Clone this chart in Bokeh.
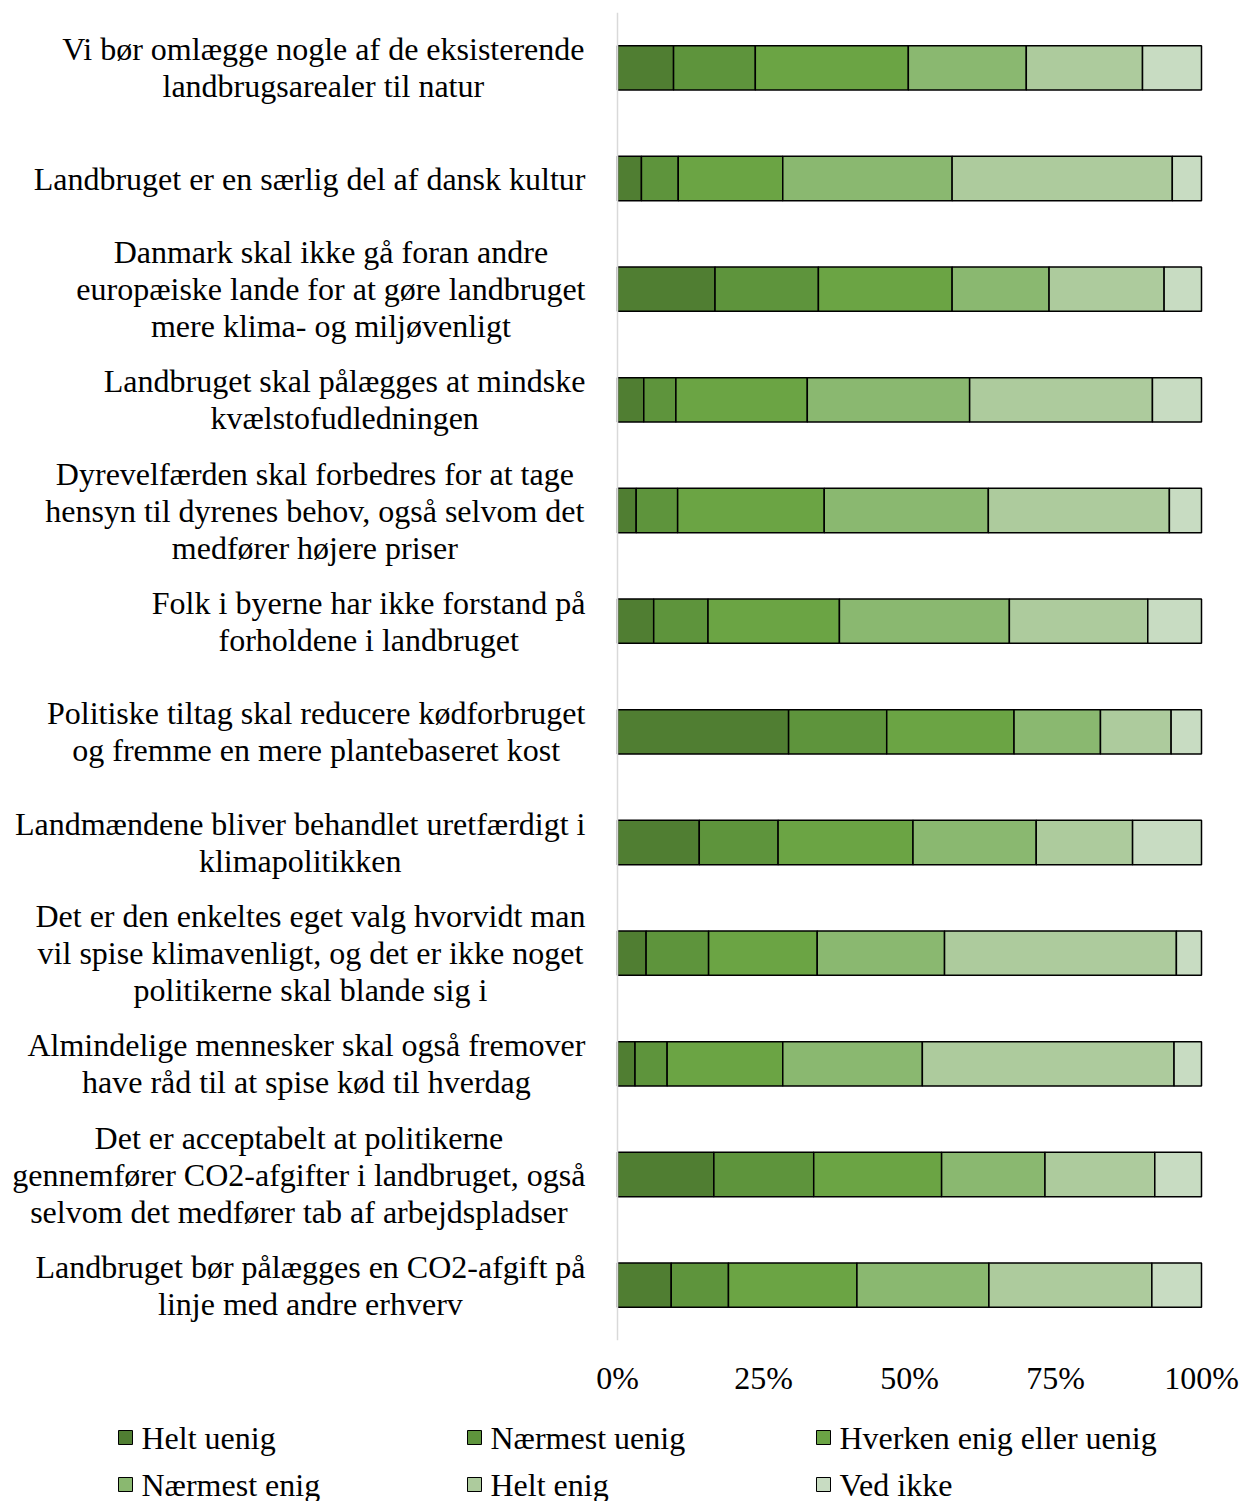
from bokeh.plotting import figure
from bokeh.models import FactorRange, Range1d, FixedTicker, Span, ColumnDataSource
from bokeh.layouts import column
from bokeh.embed import file_html
from bokeh.resources import INLINE
from bokeh.core.properties import value

# ---------------- data ----------------
statements = [
    ["Vi bør omlægge nogle af de eksisterende", "landbrugsarealer til natur"],
    ["Landbruget er en særlig del af dansk kultur"],
    ["Danmark skal ikke gå foran andre", "europæiske lande for at gøre landbruget", "mere klima- og miljøvenligt"],
    ["Landbruget skal pålægges at mindske", "kvælstofudledningen"],
    ["Dyrevelfærden skal forbedres for at tage", "hensyn til dyrenes behov, også selvom det", "medfører højere priser"],
    ["Folk i byerne har ikke forstand på", "forholdene i landbruget"],
    ["Politiske tiltag skal reducere kødforbruget", "og fremme en mere plantebaseret kost"],
    ["Landmændene bliver behandlet uretfærdigt i", "klimapolitikken"],
    ["Det er den enkeltes eget valg hvorvidt man", "vil spise klimavenligt, og det er ikke noget", "politikerne skal blande sig i"],
    ["Almindelige mennesker skal også fremover", "have råd til at spise kød til hverdag"],
    ["Det er acceptabelt at politikerne", "gennemfører CO2-afgifter i landbruget, også", "selvom det medfører tab af arbejdspladser"],
    ["Landbruget bør pålægges en CO2-afgift på", "linje med andre erhverv"],
]

series_names = ["Helt uenig", "Nærmest uenig", "Hverken enig eller uenig",
                "Nærmest enig", "Helt enig", "Ved ikke"]

helt_uenig     = [9.6, 4.1, 16.7, 4.5, 3.2, 6.2, 29.3, 14.0, 4.9, 3.0, 16.5, 9.2]
naermest_uenig = [14.0, 6.3, 17.7, 5.5, 7.1, 9.3, 16.8, 13.5, 10.7, 5.5, 17.1, 9.8]
hverken        = [26.2, 17.9, 22.9, 22.5, 25.1, 22.5, 21.8, 23.1, 18.6, 19.8, 21.9, 22.0]
naermest_enig  = [20.2, 29.0, 16.6, 27.8, 28.1, 29.1, 14.8, 21.1, 21.8, 23.9, 17.7, 22.6]
helt_enig      = [19.9, 37.7, 19.7, 31.3, 31.0, 23.7, 12.1, 16.5, 39.7, 43.1, 18.8, 27.9]
ved_ikke       = [10.1, 5.0, 6.4, 8.4, 5.5, 9.2, 5.2, 11.8, 4.3, 4.7, 8.0, 8.5]

x_ticks = [0, 25, 50, 75, 100]
x_tick_labels = ["0%", "25%", "50%", "75%", "100%"]

colors = ["#507E32", "#5E943C", "#6BA444", "#8AB870", "#ADCB9D", "#C8DCC2"]

# ---------------- layout constants ----------------
FONT = "Liberation Serif"
FS = 32
FIG_W = 1240
MAIN_H = 1400
LEG_H = 101
ZERO_PX = 617        # x of 0% measured from frame left
HUNDRED_PX = 1201    # x of 100% measured from frame left
UNIT = (HUNDRED_PX - ZERO_PX) / 100.0
LABEL_RIGHT_PX = 585  # right edge of label blocks from frame left
LINE_SP = 37

# Times / Liberation Serif advance widths (per 1000 em)
W = {' ': 250, ',': 250, '.': 250, '-': 333, '%': 833,
     'A': 722, 'B': 667, 'C': 667, 'D': 722, 'E': 611, 'F': 556, 'G': 722, 'H': 722,
     'I': 333, 'J': 389, 'K': 722, 'L': 611, 'M': 889, 'N': 722, 'O': 722, 'P': 556,
     'Q': 722, 'R': 667, 'S': 556, 'T': 611, 'U': 722, 'V': 722, 'W': 944, 'X': 722,
     'Y': 722, 'Z': 611,
     'a': 444, 'b': 500, 'c': 444, 'd': 500, 'e': 444, 'f': 333, 'g': 500, 'h': 500,
     'i': 278, 'j': 278, 'k': 500, 'l': 278, 'm': 778, 'n': 500, 'o': 500, 'p': 500,
     'q': 500, 'r': 333, 's': 389, 't': 278, 'u': 500, 'v': 500, 'w': 722, 'x': 500,
     'y': 500, 'z': 444, 'æ': 667, 'ø': 500, 'å': 444}


def text_w(s):
    return sum(W.get(c, 500) for c in s) * FS / 1000.0


cats = [" ".join(lines) for lines in statements]

data = {"cat": cats}
for name, vals in zip(series_names, [helt_uenig, naermest_uenig, hverken,
                                     naermest_enig, helt_enig, ved_ikke]):
    data[name] = vals
source = ColumnDataSource(data)

x_start = -ZERO_PX / UNIT
x_end = (FIG_W - ZERO_PX) / UNIT

p = figure(width=FIG_W, height=MAIN_H,
           y_range=FactorRange(factors=cats[::-1]),
           x_range=Range1d(x_start, x_end),
           toolbar_location=None, output_backend="svg",
           min_border_left=0, min_border_right=0, min_border_top=12,
           min_border_bottom=60)

p.hbar_stack(series_names, y="cat", height=0.4, color=colors,
             line_color="black", line_width=1.5, source=source)

# category labels (centered multi-line blocks)
lx, ly, lyo, lt = [], [], [], []
for cat, lines in zip(cats, statements):
    maxw = max(text_w(l) for l in lines)
    cx = (LABEL_RIGHT_PX - maxw / 2.0 - ZERO_PX) / UNIT
    n = len(lines)
    for i, l in enumerate(lines):
        lx.append(cx)
        ly.append(cat)
        lyo.append((i - (n - 1) / 2.0) * LINE_SP)
        lt.append(l)
lab_src = ColumnDataSource(dict(x=lx, y=ly, yo=lyo, text=lt))
p.text(x="x", y="y", text="text", y_offset="yo", source=lab_src,
       text_font=value(FONT), text_font_size=f"{FS}px",
       text_align="center", text_baseline="middle", text_color="black")

p.add_layout(Span(location=0, dimension="height", line_color="#d9d9d9",
                  line_width=1.5))

p.yaxis.visible = False
p.xgrid.grid_line_color = None
p.ygrid.grid_line_color = None
p.outline_line_color = None
p.xaxis.ticker = FixedTicker(ticks=x_ticks)
p.xaxis.major_label_overrides = {t: l for t, l in zip(x_ticks, x_tick_labels)}
p.xaxis.axis_line_color = None
p.xaxis.major_tick_line_color = None
p.xaxis.minor_tick_line_color = None
p.xaxis.major_label_text_font = FONT
p.xaxis.major_label_text_font_size = f"{FS}px"
p.xaxis.major_label_text_color = "black"
p.xaxis.major_label_standoff = 13

# ---------------- legend ----------------
leg = figure(width=FIG_W, height=LEG_H, x_range=Range1d(0, FIG_W),
             y_range=Range1d(LEG_H, 0), toolbar_location=None,
             output_backend="svg", min_border=0)
leg.axis.visible = False
leg.grid.grid_line_color = None
leg.outline_line_color = None

sq_x, sq_y, tx = [], [], []
for i, name in enumerate(series_names):
    col, row = i % 3, i // 3
    sq_x.append(125 + col * 349)
    sq_y.append(37 + row * 47)
    tx.append(141 + col * 349)
leg.rect(x=sq_x, y=sq_y, width=14, height=14, fill_color=colors,
         line_color="black", line_width=1)
leg.text(x=tx, y=sq_y, text=series_names, text_font=value(FONT),
         text_font_size=f"{FS}px", text_align="left", text_baseline="middle",
         text_color="black")

layout = column(p, leg, spacing=0)
open("out.html", "w").write(file_html(layout, INLINE))
